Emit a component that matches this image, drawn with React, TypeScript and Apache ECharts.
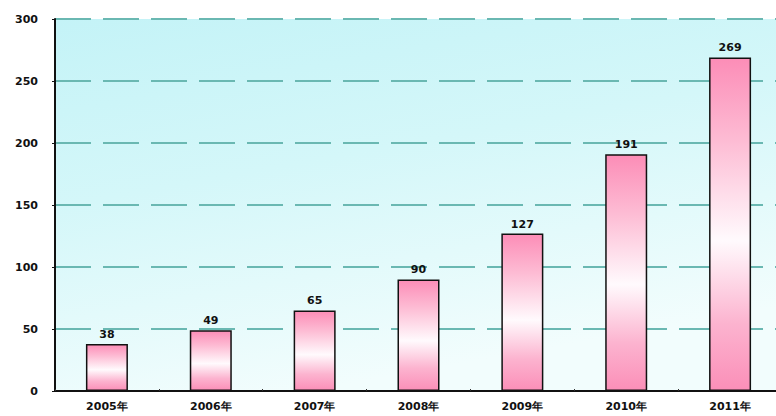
import React, { useEffect, useRef } from "react";
import * as echarts from "echarts";

const categories = ["2005年", "2006年", "2007年", "2008年", "2009年", "2010年", "2011年"];
const values = [38, 49, 65, 90, 127, 191, 269];
const yTicks = [0, 50, 100, 150, 200, 250, 300];

export default function App() {
  const ref = useRef<HTMLDivElement>(null);
  useEffect(() => {
    if (!ref.current) return;
    const chart = echarts.init(ref.current, null, { renderer: "svg" });
    const barGrad = new echarts.graphic.LinearGradient(0, 0, 0, 1, [
      { offset: 0, color: "#fc8db7" },
      { offset: 0.25, color: "#fdbcd4" },
      { offset: 0.55, color: "#fffafd" },
      { offset: 0.8, color: "#fcb3cf" },
      { offset: 1, color: "#fb8fb8" },
    ]);
    chart.setOption({
      animation: false,
      backgroundColor: "#ffffff",
      textStyle: { fontFamily: "DejaVu Sans" },
      grid: {
        left: 55,
        top: 19,
        bottom: 25,
        right: 8,
        show: true,
        borderWidth: 0,
        backgroundColor: new echarts.graphic.LinearGradient(0, 0, 0.35, 1, [
          { offset: 0, color: "#c4f3f7" },
          { offset: 0.45, color: "#d4f7f9" },
          { offset: 1, color: "#f2fdfd" },
        ]),
      },
      xAxis: {
        type: "category",
        data: categories,
        axisLine: { lineStyle: { color: "#111", width: 2 } },
        axisTick: { show: true, inside: true, length: 2, lineStyle: { color: "#333" } },
        axisLabel: { color: "#111", fontSize: 11, fontWeight: "bold", margin: 10 },
      },
      yAxis: {
        type: "value",
        min: 0,
        max: 300,
        interval: 50,
        axisLine: { show: true, lineStyle: { color: "#111", width: 2 } },
        axisTick: { show: true, length: 3, lineStyle: { color: "#111" } },
        axisLabel: {
          color: "#111",
          fontSize: 11,
          fontWeight: "bold",
          margin: 17,
          formatter: (v: number) => (yTicks.includes(v) ? String(v) : ""),
        },
        splitLine: {
          show: true,
          lineStyle: { color: "#6ab8b2", width: 2, type: [36, 12], dashOffset: 0 },
        },
      },
      series: [
        {
          type: "bar",
          data: values,
          barWidth: 42,
          itemStyle: { color: barGrad, borderColor: "#111", borderWidth: 1.5 },
          label: {
            show: true,
            position: "top",
            distance: 4,
            color: "#111",
            fontSize: 11,
            fontWeight: "bold",
          },
        },
      ],
    });
    return () => chart.dispose();
  }, []);
  return (
    <div style={{ position: "fixed", left: 0, top: 0, width: 776, height: 416, overflow: "hidden" }}>
      <div ref={ref} style={{ width: 790, height: 416 }} />
    </div>
  );
}
